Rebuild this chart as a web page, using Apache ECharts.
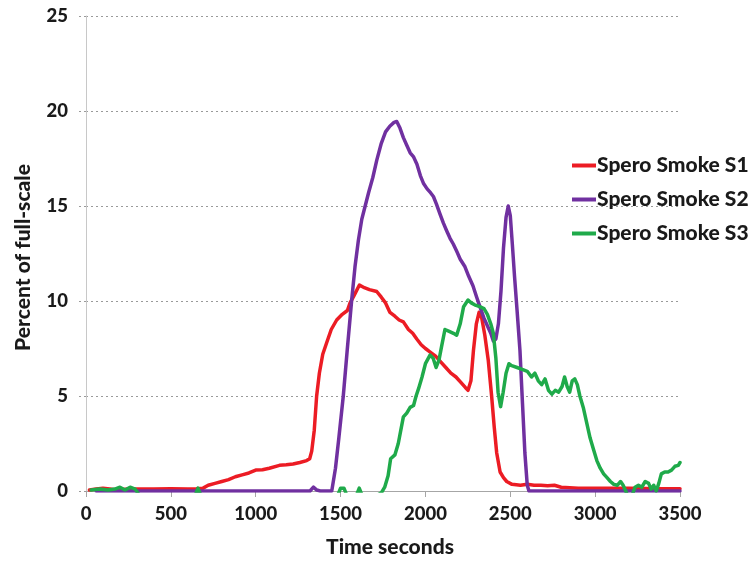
<!DOCTYPE html>
<html>
<head>
<meta charset="utf-8">
<title>Spero Smoke</title>
<script src="https://cdn.jsdelivr.net/npm/echarts@6/dist/echarts.min.js"></script>
<style>
  html, body { margin: 0; padding: 0; background: #fff; }
  #chart { width: 754px; height: 565px; }
</style>
</head>
<body>
<div id="chart"></div>
<script>
// Sensor response over time, percent of full-scale
const seriesNames = ['Spero Smoke S1', 'Spero Smoke S2', 'Spero Smoke S3'];
const xTicks = [0, 500, 1000, 1500, 2000, 2500, 3000, 3500];
const yTicks = [0, 5, 10, 15, 20, 25];

const s1Time = [20, 60, 100, 140, 180, 250, 300, 400, 500, 600, 650, 690, 720, 760, 800, 840, 880, 920, 960, 1000, 1040, 1080, 1140, 1180, 1220, 1260, 1300, 1318, 1330, 1345, 1359, 1375, 1395, 1418, 1445, 1477, 1510, 1540, 1556, 1580, 1611, 1640, 1670, 1713, 1740, 1765, 1791, 1820, 1845, 1870, 1900, 1925, 1949, 1975, 2000, 2030, 2060, 2090, 2120, 2150, 2180, 2210, 2235, 2251, 2268, 2283, 2300, 2316, 2332, 2350, 2370, 2390, 2405, 2420, 2440, 2460, 2479, 2510, 2560, 2600, 2640, 2680, 2720, 2760, 2800, 2900, 3000, 3200, 3400, 3500];
const s1Value = [0.05, 0.1, 0.15, 0.1, 0.05, 0.1, 0.1, 0.1, 0.12, 0.1, 0.12, 0.15, 0.3, 0.4, 0.5, 0.6, 0.75, 0.85, 0.95, 1.1, 1.12, 1.2, 1.35, 1.38, 1.42, 1.5, 1.6, 1.7, 2.1, 3.2, 5.0, 6.2, 7.2, 7.8, 8.5, 9.0, 9.3, 9.5, 9.9, 10.3, 10.84, 10.7, 10.6, 10.5, 10.2, 9.9, 9.4, 9.2, 9.0, 8.9, 8.5, 8.3, 8.0, 7.7, 7.5, 7.3, 7.1, 6.8, 6.5, 6.2, 6.0, 5.7, 5.45, 5.3, 5.8, 7.4, 8.8, 9.4, 9.1, 8.2, 6.9, 5.0, 3.4, 2.0, 1.0, 0.7, 0.5, 0.35, 0.3, 0.35, 0.3, 0.3, 0.28, 0.3, 0.2, 0.15, 0.15, 0.15, 0.12, 0.12];

const s2Time = [60, 400, 800, 1200, 1320, 1340, 1360, 1380, 1448, 1470, 1490, 1516, 1540, 1565, 1585, 1605, 1625, 1645, 1665, 1690, 1713, 1740, 1765, 1790, 1815, 1831, 1850, 1870, 1890, 1910, 1929, 1950, 1970, 1988, 2010, 2030, 2047, 2065, 2085, 2106, 2125, 2145, 2164, 2185, 2205, 2233, 2255, 2280, 2302, 2325, 2345, 2365, 2385, 2400, 2415, 2430, 2445, 2460, 2475, 2488, 2500, 2512, 2525, 2540, 2557, 2572, 2586, 2600, 2610, 3000, 3500];
const s2Value = [0, 0, 0, 0, 0, 0.2, 0.05, 0, 0, 1.2, 2.8, 5.0, 7.5, 10.0, 11.8, 13.2, 14.3, 15.0, 15.7, 16.5, 17.4, 18.3, 18.9, 19.2, 19.4, 19.45, 19.1, 18.6, 18.2, 17.8, 17.6, 17.2, 16.6, 16.2, 15.9, 15.7, 15.5, 15.1, 14.6, 14.1, 13.7, 13.3, 13.0, 12.6, 12.2, 11.8, 11.3, 10.8, 10.2, 9.6, 9.1, 8.7, 8.3, 7.9, 8.0, 8.8, 10.5, 12.8, 14.4, 15.0, 14.5, 13.0, 11.3, 9.5, 7.4, 4.6, 2.0, 0.3, 0, 0, 0];

const s3Time = [30, 80, 130, 170, 200, 230, 260, 290, 320, 640, 660, 680, 1480, 1500, 1520, 1540, 1590, 1610, 1630, 1700, 1740, 1760, 1780, 1795, 1820, 1840, 1855, 1870, 1890, 1910, 1930, 1945, 1960, 1980, 2000, 2027, 2045, 2063, 2080, 2095, 2115, 2140, 2165, 2184, 2205, 2225, 2251, 2270, 2290, 2320, 2345, 2365, 2385, 2400, 2415, 2428, 2443, 2458, 2475, 2492, 2508, 2540, 2570, 2600, 2625, 2645, 2665, 2685, 2705, 2725, 2745, 2765, 2785, 2805, 2820, 2835, 2850, 2865, 2880, 2895, 2910, 2930, 2950, 2970, 2990, 3010, 3030, 3050, 3070, 3090, 3110, 3130, 3150, 3165, 3180, 3195, 3215, 3235, 3255, 3275, 3295, 3315, 3330, 3345, 3360, 3375, 3390, 3410, 3430, 3450, 3470, 3490, 3500];
const s3Value = [0.05, 0.1, 0.05, 0.1, 0.2, 0.05, 0.2, 0.1, -0.3, -0.3, 0.15, -0.3, -0.3, 0.15, 0.15, -0.3, -0.3, 0.15, -0.3, -0.3, -0.1, 0.2, 0.8, 1.7, 1.9, 2.5, 3.2, 3.9, 4.1, 4.4, 4.5, 5.0, 5.4, 6.0, 6.7, 7.15, 7.0, 6.5, 6.9, 7.6, 8.5, 8.4, 8.3, 8.2, 8.8, 9.7, 10.05, 9.9, 9.8, 9.7, 9.6, 9.3, 8.8, 8.3, 7.0, 5.2, 4.44, 5.2, 6.2, 6.7, 6.6, 6.5, 6.4, 6.3, 6.0, 6.2, 5.8, 5.6, 5.9, 5.3, 5.1, 5.3, 5.2, 5.5, 6.0, 5.5, 5.2, 5.8, 5.9, 5.6, 5.0, 4.4, 3.6, 2.8, 2.2, 1.6, 1.2, 0.9, 0.7, 0.5, 0.35, 0.3, 0.5, 0.3, 0.0, -0.3, -0.3, 0.2, 0.3, 0.2, 0.5, 0.4, 0.1, 0.3, 0.0, 0.4, 0.9, 1.0, 1.0, 1.1, 1.3, 1.35, 1.5];

const seriesColors = ['#ec1c24', '#7030a0', '#1faa4a'];
const seriesTimes = [s1Time, s2Time, s3Time];
const seriesValues = [s1Value, s2Value, s3Value];

const FONT = 'Lato, "Open Sans", sans-serif';
const TEXT = '#1a1a1a';
const WEIGHT = 900;

const chart = echarts.init(document.getElementById('chart'), null, { renderer: 'canvas' });

chart.setOption({
  animation: false,
  backgroundColor: '#ffffff',
  grid: { left: 86, right: 74, top: 16, bottom: 74, containLabel: false },
  legend: {
    orient: 'vertical',
    left: 567,
    top: 150,
    itemWidth: 24,
    itemHeight: 4,
    itemGap: 13,
    icon: 'rect',
    textStyle: { fontFamily: FONT, fontWeight: WEIGHT, fontSize: 21, color: TEXT, padding: [0, 0, 0, -4] },
    data: seriesNames
  },
  xAxis: {
    type: 'value',
    min: xTicks[0],
    max: xTicks[xTicks.length - 1],
    interval: 500,
    name: 'Time seconds',
    nameLocation: 'middle',
    nameGap: 46,
    nameTextStyle: { fontFamily: FONT, fontWeight: WEIGHT, fontSize: 21, color: TEXT, padding: [0, 0, 0, 14] },
    axisLine: { show: true, lineStyle: { color: '#a6a6a6', width: 1 } },
    axisTick: { show: true, length: 6, lineStyle: { color: '#a6a6a6' } },
    axisLabel: {
      margin: 14, fontFamily: FONT, fontWeight: WEIGHT, fontSize: 18.5, color: TEXT,
      formatter: (v) => String(v)
    },
    splitLine: { show: false }
  },
  yAxis: {
    type: 'value',
    min: yTicks[0],
    max: yTicks[yTicks.length - 1],
    interval: 5,
    name: 'Percent of full-scale',
    nameLocation: 'middle',
    nameGap: 52,
    nameTextStyle: { fontFamily: FONT, fontWeight: WEIGHT, fontSize: 21, color: TEXT, padding: [0, 8, 0, 0] },
    axisLine: { show: true, lineStyle: { color: '#c8c8c8', width: 1 } },
    axisTick: { show: true, length: 7, lineStyle: { color: '#9a9a9a', type: [2, 3] } },
    axisLabel: { margin: 18, fontFamily: FONT, fontWeight: WEIGHT, fontSize: 18.5, color: TEXT },
    splitLine: { show: true, lineStyle: { color: '#9a9a9a', width: 1, type: [2, 3] } }
  },
  series: seriesNames.map((name, i) => ({
    name: name,
    type: 'line',
    showSymbol: false,
    symbol: 'none',
    clip: true,
    color: seriesColors[i],
    lineStyle: { width: 3.5, color: seriesColors[i], join: 'round', cap: 'round' },
    data: seriesTimes[i].map((t, k) => [t, seriesValues[i][k]])
  }))
});
</script>
</body>
</html>
